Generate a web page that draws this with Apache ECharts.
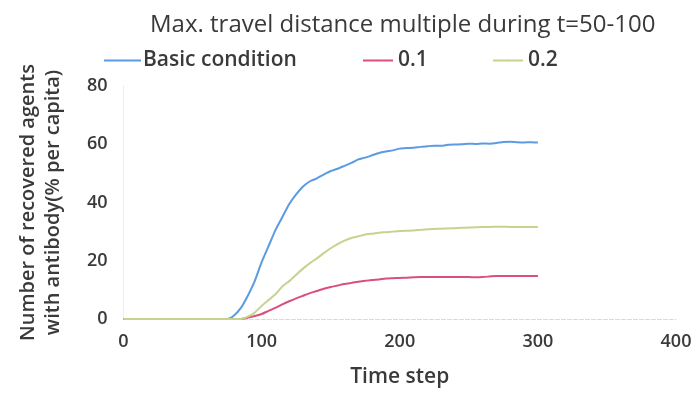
<!DOCTYPE html>
<html>
<head>
<meta charset="utf-8">
<script src="https://cdn.jsdelivr.net/npm/echarts@6/dist/echarts.min.js"></script>
<style>
  html, body { margin: 0; padding: 0; background: #fff; }
  #chart { width: 697px; height: 393px; }
</style>
</head>
<body>
<div id="chart"></div>
<script>
// Time steps sampled along the simulation run
const timeSteps = [0, 70, 75, 80, 85, 90, 95, 100, 105, 110, 115, 120, 125, 130, 135, 140, 145, 150,
  155, 160, 165, 170, 175, 180, 185, 190, 195, 200, 205, 210, 215, 220, 225, 230, 235, 240, 245,
  250, 255, 260, 265, 270, 275, 280, 285, 290, 295, 300];

// Recovered agents with antibody (% per capita)
const basicCondition = [0, 0, 0, 1.2, 3.8, 8, 13, 19.5, 25, 30.5, 35, 39.5, 42.8, 45.5, 47.3, 48.3,
  49.6, 50.8, 51.6, 52.6, 53.6, 54.8, 55.4, 56.2, 57.0, 57.5, 57.9, 58.5, 58.7, 58.8, 59.1, 59.3,
  59.5, 59.5, 59.8, 59.9, 60.0, 60.2, 60.1, 60.3, 60.2, 60.4, 60.8, 60.9, 60.7, 60.6, 60.7, 60.6];
const multiple01 = [0, 0, 0, 0, 0, 0.5, 1.0, 1.7, 2.8, 3.8, 5.0, 6.1, 7.1, 8.0, 8.9, 9.6, 10.4, 11.0,
  11.5, 12.0, 12.4, 12.8, 13.1, 13.4, 13.6, 13.9, 14.0, 14.1, 14.2, 14.3, 14.4, 14.4, 14.4, 14.4,
  14.4, 14.4, 14.4, 14.4, 14.3, 14.4, 14.6, 14.8, 14.8, 14.8, 14.8, 14.8, 14.8, 14.8];
const multiple02 = [0, 0, 0, 0, 0, 0.8, 2.2, 4.5, 6.5, 8.5, 11.2, 13.0, 15.2, 17.3, 19.2, 20.8, 22.6,
  24.3, 25.7, 26.9, 27.8, 28.4, 29.0, 29.3, 29.6, 29.8, 30.0, 30.2, 30.3, 30.4, 30.6, 30.8, 30.9,
  31.0, 31.1, 31.2, 31.3, 31.4, 31.5, 31.6, 31.6, 31.7, 31.7, 31.6, 31.6, 31.6, 31.6, 31.6];

const seriesNames = ['Basic condition', '0.1', '0.2'];
const xTicks = [0, 100, 200, 300, 400];
const yTicks = [0, 20, 40, 60, 80];

const pairs = vals => timeSteps.map((t, i) => [t, vals[i]]);

const FONT = '"Open Sans", Lato, sans-serif';
const TEXT = '#3a3a3a';

const chart = echarts.init(document.getElementById('chart'), null, { renderer: 'canvas' });

const legendItem = (name, left, width, textPad) => ({
  top: 50,
  left: left,
  padding: 0,
  itemWidth: width,
  itemHeight: 2,
  itemGap: 0,
  data: [name],
  textStyle: { fontFamily: FONT, fontSize: 21, fontWeight: 600, color: TEXT, padding: [0, 0, 0, textPad] }
});

chart.setOption({
  backgroundColor: '#ffffff',
  animation: false,
  title: {
    text: 'Max. travel distance multiple during t=50-100',
    left: 145,
    top: 8,
    textStyle: { fontFamily: FONT, fontSize: 24, fontWeight: 500, color: TEXT }
  },
  legend: [
    legendItem(seriesNames[0], 103, 37, -3),
    legendItem(seriesNames[1], 362, 30, 0),
    legendItem(seriesNames[2], 492, 30, 0)
  ],
  grid: { left: 123.5, right: 21, top: 86, bottom: 73 },
  xAxis: {
    type: 'value',
    min: xTicks[0],
    max: xTicks[xTicks.length - 1],
    interval: 100,
    name: 'Time step',
    nameLocation: 'middle',
    nameGap: 48,
    nameTextStyle: { fontFamily: FONT, fontSize: 21, fontWeight: 600, color: TEXT },
    axisLine: { show: true, lineStyle: { color: '#d9d9d9', width: 1, type: 'dashed' } },
    axisTick: { show: false },
    axisLabel: { fontFamily: FONT, fontSize: 18, fontWeight: 600, color: TEXT, margin: 14 },
    splitLine: { show: false }
  },
  yAxis: {
    type: 'value',
    min: yTicks[0],
    max: yTicks[yTicks.length - 1],
    interval: 20,
    name: 'Number of recovered agents\nwith antibody(% per capita)',
    nameLocation: 'middle',
    nameGap: 58,
    nameTextStyle: { fontFamily: FONT, fontSize: 20, fontWeight: 600, color: TEXT, lineHeight: 25 },
    axisLine: { show: true, lineStyle: { color: '#eeeeee', width: 1 } },
    axisTick: { show: false },
    axisLabel: { fontFamily: FONT, fontSize: 18, fontWeight: 600, color: TEXT, margin: 16 },
    splitLine: { show: false }
  },
  series: [
    {
      name: seriesNames[0], type: 'line', data: pairs(basicCondition),
      symbol: 'none', smooth: 0.2,
      lineStyle: { color: '#5b9be2', width: 2 }, itemStyle: { color: '#5b9be2' }
    },
    {
      name: seriesNames[1], type: 'line', data: pairs(multiple01),
      symbol: 'none', smooth: 0.2,
      lineStyle: { color: '#d9507a', width: 2 }, itemStyle: { color: '#d9507a' }
    },
    {
      name: seriesNames[2], type: 'line', data: pairs(multiple02),
      symbol: 'none', smooth: 0.2,
      lineStyle: { color: '#c8d28f', width: 2 }, itemStyle: { color: '#c8d28f' }
    }
  ]
});
</script>
</body>
</html>
